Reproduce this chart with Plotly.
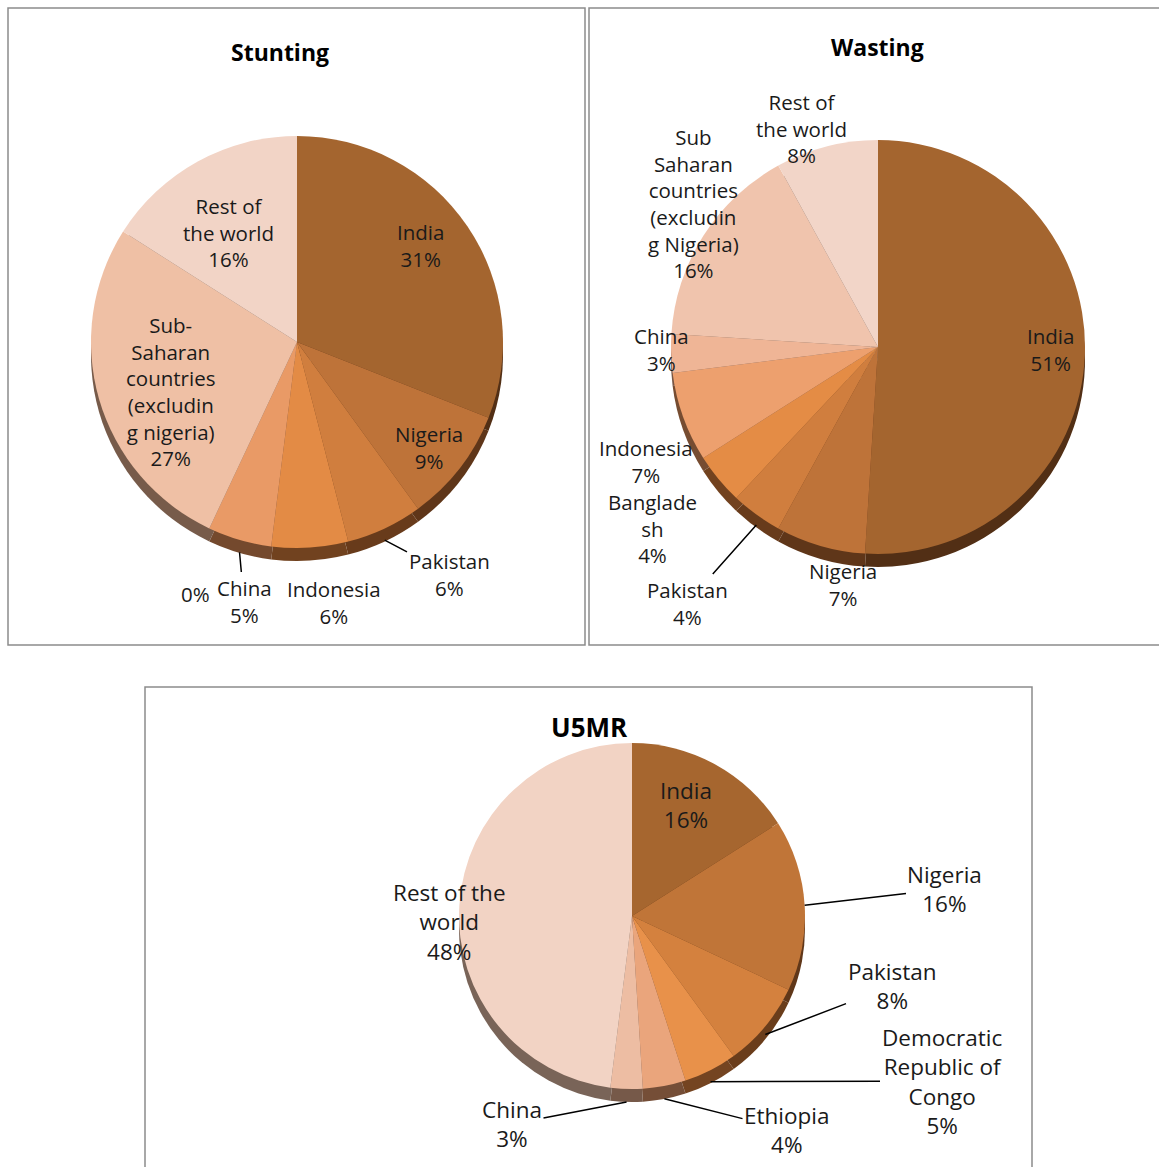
import math
import plotly.graph_objects as go

W, H = 1159, 1167

# ---------------- data ----------------
stunting_names = ["India", "Nigeria", "Pakistan", "Indonesia", "China", "",
                  "Sub-<br>Saharan<br>countries<br>(excludin<br>g nigeria)", "Rest of<br>the world"]
stunting_values = [31, 9, 6, 6, 5, 0, 27, 16]

wasting_names = ["India", "Nigeria", "Pakistan", "Banglade<br>sh", "Indonesia", "China",
                 "Sub<br>Saharan<br>countries<br>(excludin<br>g Nigeria)", "Rest of<br>the world"]
wasting_values = [51, 7, 4, 4, 7, 3, 16, 8]

u5mr_names = ["India", "Nigeria", "Pakistan", "Democratic<br>Republic of<br>Congo",
              "Ethiopia", "China", "Rest of the<br>world"]
u5mr_values = [16, 16, 8, 5, 4, 3, 48]

# ---------------- styles ----------------
stunting_colors = ["#A4652F", "#BE7339", "#D07E3E", "#E38B45", "#E99A66", "#ECA57A", "#EFC0A5", "#F2D4C6"]
wasting_colors = ["#A4652F", "#BE7339", "#D07E3E", "#E48C45", "#EDA06E", "#EFB596", "#F0C4AD", "#F2D5C8"]
u5mr_colors = ["#A6662F", "#C07538", "#D4813E", "#E8914A", "#EAA57C", "#EDBDA3", "#F2D3C4"]

# label centre positions (px) and whether a leader line is drawn
stunting_label_pos = [(420, 246), (429, 448), (449, 574), (334, 602), (244, 601), (195, 594), (170, 391), (228, 233)]
stunting_leader = [False, False, True, False, True, False, False, False]
wasting_label_pos = [(1050, 350), (843, 584), (687, 603), (652, 528), (646, 461), (661, 350), (693, 204), (801, 128)]
wasting_leader = [False, False, True, False, False, False, False, False]
u5mr_label_pos = [(686, 805), (945, 889), (892, 986), (942, 1081), (787, 1130), (512, 1124), (449, 922)]
u5mr_leader = [False, True, True, True, True, True, False]

FONT = "Open Sans, Noto Sans, sans-serif"
SHADOW = 13


def darker(hexc, f=0.5):
    h = hexc.lstrip("#")
    r, g, b = (int(h[i:i + 2], 16) for i in (0, 2, 4))
    return "rgb(%d,%d,%d)" % (r * f, g * f * 0.95, b * f * 0.9)


def dom(cx, cy, r, dy=0):
    return dict(x=[(cx - r) / W, (cx + r) / W],
                y=[1 - (cy + dy + r) / H, 1 - (cy + dy - r) / H])


fig = go.Figure()

charts = [
    (stunting_names, stunting_values, stunting_colors, (297, 342, 206), 20.5,
     stunting_label_pos, stunting_leader),
    (wasting_names, wasting_values, wasting_colors, (878, 347, 207), 20.5,
     wasting_label_pos, wasting_leader),
    (u5mr_names, u5mr_values, u5mr_colors, (632, 916, 173), 22.5,
     u5mr_label_pos, u5mr_leader),
]

for names, values, colors, (cx, cy, r), fs, lpos, leader in charts:
    labels = [n.replace("<br>", " ") if n else "Other" for n in names]
    # 3D edge (shadow)
    fig.add_trace(go.Pie(
        labels=labels, values=values, sort=False, direction="clockwise", rotation=0,
        marker=dict(colors=[darker(c) for c in colors], line=dict(width=0)),
        textinfo="none", hoverinfo="skip", showlegend=False,
        domain=dom(cx, cy, r, dy=SHADOW),
    ))
    fig.add_trace(go.Pie(
        labels=labels, values=values, sort=False, direction="clockwise", rotation=0,
        marker=dict(colors=colors, line=dict(width=0)),
        textinfo="none", hoverinfo="label+value", showlegend=False,
        domain=dom(cx, cy, r),
    ))
    total = float(sum(values))
    cum = 0.0
    for name, v, (lx, ly), ld in zip(names, values, lpos, leader):
        mid = (cum + v / 2.0) / total
        cum += v
        th = 2 * math.pi * mid
        ex = cx + r * math.sin(th)
        ey = cy - r * math.cos(th)
        if math.cos(th) < 0:
            ey += SHADOW * (-math.cos(th))
        txt = f"{name}<br>{v}%" if name else f"{v}%"
        if ld:
            fig.add_annotation(text=txt, x=ex / W, y=1 - ey / H, xref="paper", yref="paper",
                               ax=lx - ex, ay=ly - ey, showarrow=True, arrowhead=0,
                               arrowwidth=1.5, arrowcolor="#000", standoff=0,
                               font=dict(family=FONT, size=fs, color="#1a1a1a"), align="center")
        else:
            fig.add_annotation(text=txt, x=lx / W, y=1 - ly / H, xref="paper", yref="paper",
                               showarrow=False, xanchor="center", yanchor="middle",
                               font=dict(family=FONT, size=fs, color="#1a1a1a"), align="center")

# frames
frames = [(8, 8, 585, 645), (589, 8, 1165, 645), (145, 687, 1032, 1175)]
for x0, y0, x1, y1 in frames:
    fig.add_shape(type="rect", xref="paper", yref="paper",
                  x0=x0 / W, x1=x1 / W, y0=1 - y1 / H, y1=1 - y0 / H,
                  line=dict(color="#8c8c8c", width=1.5), fillcolor="rgba(0,0,0,0)", layer="below")

titles = [("Stunting", 280, 52, 23), ("Wasting", 878, 47, 23), ("U5MR", 589, 727, 26)]
for t, x, y, fs in titles:
    fig.add_annotation(text=f"<b>{t}</b>", x=x / W, y=1 - y / H, xref="paper", yref="paper",
                       showarrow=False, font=dict(family=FONT, size=fs, color="#000"),
                       xanchor="center", yanchor="middle")

fig.update_layout(width=W, height=H, margin=dict(l=0, r=0, t=0, b=0, autoexpand=False),
                  paper_bgcolor="white", plot_bgcolor="white", showlegend=False)

fig.write_html("out.html")
